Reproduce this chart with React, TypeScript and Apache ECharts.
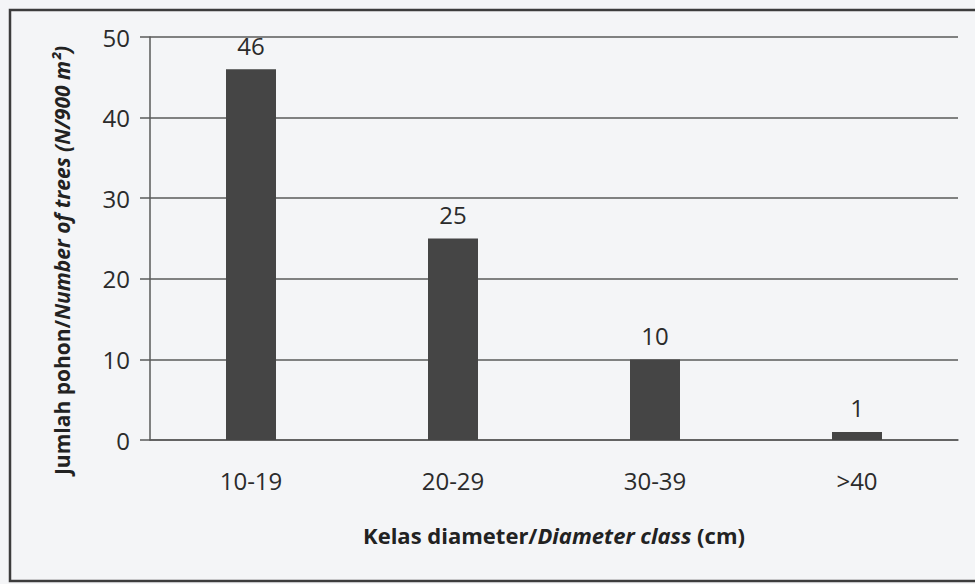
import React, { useEffect, useRef } from "react";
import * as echarts from "echarts";

const categories = ["10-19", "20-29", "30-39", ">40"];
const treeCounts = [46, 25, 10, 1];
const yTicks = { min: 0, max: 50, interval: 10 };

export default function App() {
  const ref = useRef<HTMLDivElement>(null);
  useEffect(() => {
    if (!ref.current) return;
    const chart = echarts.init(ref.current, null, { renderer: "svg" });
    const font = "'Open Sans', 'Noto Sans', sans-serif";
    chart.setOption({
      animation: false,
      backgroundColor: "#f4f5f7",
      textStyle: { fontFamily: font },
      graphic: [
        {
          type: "rect",
          shape: { x: 10, y: 10, width: 980, height: 571 },
          style: { fill: "none", stroke: "#3c3c3c", lineWidth: 2.5 },
          silent: true,
        },
      ],
      grid: { left: 150, right: 17, top: 37, bottom: 144 },
      xAxis: {
        type: "category",
        data: categories,
        axisLine: { show: true, lineStyle: { color: "#5a5a5a", width: 1.5 } },
        axisTick: { show: false },
        axisLabel: { color: "#2b2b2b", fontSize: 24, margin: 28, fontFamily: font },
        name: "{b|Kelas diameter/}{bi|Diameter class}{b| (cm)}",
        nameLocation: "middle",
        nameGap: 84,
        nameTextStyle: {
          rich: {
            b: { fontSize: 22, fontWeight: "bold", color: "#222", fontFamily: font },
            bi: { fontSize: 22, fontWeight: "bold", fontStyle: "italic", color: "#222", fontFamily: font },
          },
        },
      },
      yAxis: {
        type: "value",
        min: yTicks.min,
        max: yTicks.max,
        interval: yTicks.interval,
        axisLine: { show: true, lineStyle: { color: "#5a5a5a", width: 1.5 } },
        axisTick: { show: true, length: 10, lineStyle: { color: "#5a5a5a", width: 1.5 } },
        splitLine: { show: true, lineStyle: { color: "#5a5a5a", width: 1.5 } },
        axisLabel: { color: "#2b2b2b", fontSize: 24, margin: 20, fontFamily: font },
        name: "{b|Jumlah pohon/}{bi|Number of trees (N/900 m²)}",
        nameLocation: "middle",
        nameRotate: 90,
        nameGap: 78,
        nameTextStyle: {
          padding: [0, 44, 0, 0],
          rich: {
            b: { fontSize: 21, fontWeight: "bold", color: "#222", fontFamily: font },
            bi: { fontSize: 21, fontWeight: "bold", fontStyle: "italic", color: "#222", fontFamily: font },
          },
        },
      },
      series: [
        {
          type: "bar",
          data: treeCounts,
          barWidth: 50,
          itemStyle: { color: "#454545" },
          label: {
            show: true,
            position: "top",
            distance: 12,
            fontSize: 24,
            color: "#2b2b2b",
            fontFamily: font,
          },
        },
      ],
    });
    return () => chart.dispose();
  }, []);
  return (
    <div
      ref={ref}
      style={{ position: "fixed", left: 0, top: 0, width: 975, height: 584 }}
    />
  );
}
